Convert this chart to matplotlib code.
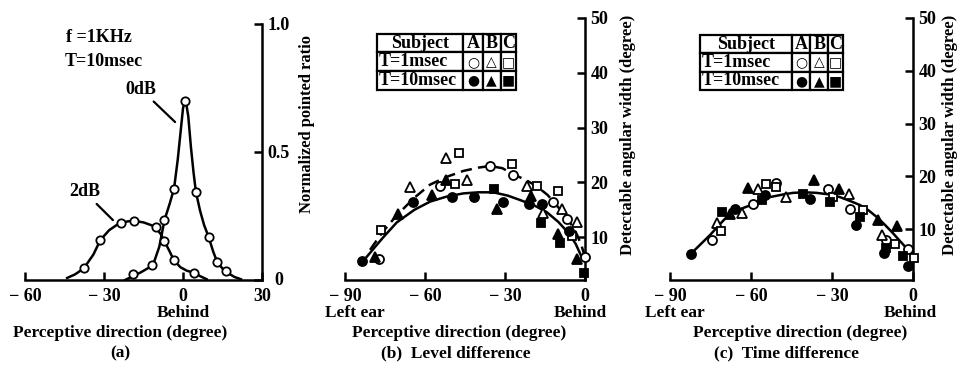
import matplotlib
matplotlib.use("Agg")
import matplotlib.pyplot as plt
from matplotlib.transforms import ScaledTranslation

W, H = 958, 365
SERIF = ["Liberation Serif", "DejaVu Serif"]
SYM = ["DejaVu Sans"]

# ---- (a) normalized pointed ratio, f=1kHz, T=10msec ----
a_0db_x = [-19.1, -11.6, -7.1, -3.4, 0.9, 4.9, 9.7, 13.0, 16.3]
a_0db_y = [0.022, 0.058, 0.234, 0.357, 0.70, 0.344, 0.169, 0.069, 0.035]
a_0db_curve_x = [-22, -19, -16, -13, -11, -9, -7, -5, -3.4, -2, -1, 0, 0.9, 2, 3, 4, 4.9, 6.5, 8, 9.7, 11.5, 13, 15, 17, 19.5, 22]
a_0db_curve_y = [0.0, 0.015, 0.03, 0.048, 0.07, 0.13, 0.235, 0.30, 0.357, 0.47, 0.57, 0.67, 0.71, 0.64, 0.52, 0.42, 0.344, 0.27, 0.215, 0.169, 0.11, 0.07, 0.045, 0.028, 0.012, 0.003]

a_2db_x = [-37.7, -31.4, -23.5, -18.7, -10.4, -7.1, -3.5, 4.1]
a_2db_y = [0.045, 0.156, 0.223, 0.231, 0.208, 0.153, 0.078, 0.029]
a_2db_curve_x = [-44, -41, -37.7, -34, -31.4, -28, -25, -23.5, -21, -18.7, -15, -12, -10.4, -8.5, -7.1, -5, -3.5, -1, 1.5, 4.1, 6.5, 9]
a_2db_curve_y = [0.008, 0.022, 0.045, 0.10, 0.156, 0.195, 0.216, 0.223, 0.229, 0.231, 0.225, 0.214, 0.205, 0.18, 0.153, 0.11, 0.078, 0.05, 0.036, 0.029, 0.015, 0.003]

# ---- (b) level difference: detectable angular width ----
b_A1_x = [-77.3, -54.4, -35.6, -27.1, -12.1, -6.6, 0.0]
b_A1_y = [6.1, 19.4, 23.0, 21.4, 16.4, 13.3, 6.4]
b_B1_x = [-65.6, -52.1, -44.1, -21.9, -15.6, -8.5, -2.9]
b_B1_y = [19.1, 24.5, 20.4, 19.3, 14.4, 15.2, 12.7]
b_C1_x = [-76.6, -48.75, -47.1, -27.5, -17.9, -10.0, -4.75]
b_C1_y = [11.4, 19.8, 25.4, 23.4, 19.4, 18.4, 10.2]
b_A10_x = [-83.7, -64.4, -50.0, -41.6, -30.9, -20.9, -16.25, -5.9]
b_A10_y = [5.6, 16.5, 17.4, 17.4, 16.5, 16.0, 16.0, 11.1]
b_B10_x = [-78.75, -70.0, -57.3, -52.0, -33.1, -20.25, -10.25, -2.9]
b_B10_y = [6.4, 14.3, 17.7, 20.4, 15.2, 17.6, 10.6, 6.1]
b_C10_x = [-34.0, -16.6, -9.4, -0.5]
b_C10_y = [18.8, 12.6, 8.9, 3.5]
b_dash_x = [-80.6, -76, -70.6, -64, -58.1, -52, -45.6, -40, -35.6, -31, -26.9, -22, -18.1, -14, -10.6, -7.5, -5.6, -3, -1.2, 0.0]
b_dash_y = [7.7, 10.9, 14.0, 17.2, 19.6, 21.0, 22.1, 22.7, 23.0, 22.6, 21.5, 20.4, 19.3, 17.7, 15.8, 14.0, 12.7, 10.5, 8.3, 6.4]
b_solid_x = [-81.9, -76, -70.6, -64, -58.1, -52, -45.6, -40, -34.4, -29, -24.4, -19, -14.4, -10, -6.25, -3.5, -1.25]
b_solid_y = [6.4, 9.8, 12.7, 15.0, 16.5, 17.4, 18.0, 18.2, 18.2, 17.6, 16.8, 15.8, 14.6, 12.8, 10.8, 8.8, 6.4]

# ---- (c) time difference: detectable angular width ----
c_A1_x = [-74.6, -59.4, -50.6, -31.4, -23.2, -9.9, -1.85]
c_A1_y = [8.0, 14.7, 18.75, 17.7, 13.75, 8.0, 6.25]
c_B1_x = [-72.5, -63.5, -57.3, -47.1, -23.7, -11.3]
c_B1_y = [11.1, 13.0, 17.7, 16.1, 16.75, 8.9]
c_C1_x = [-71.1, -54.5, -50.6, -29.8, -18.5, -6.8, 0.25]
c_C1_y = [9.7, 18.6, 18.0, 16.1, 13.6, 7.2, 4.6]
c_A10_x = [-82.2, -66.0, -55.0, -38.2, -21.2, -10.9, -1.85]
c_A10_y = [5.4, 13.75, 16.5, 15.8, 10.8, 5.5, 3.1]
c_B10_x = [-67.8, -61.0, -36.7, -27.4, -12.9, -5.9]
c_B10_y = [12.9, 17.9, 19.25, 17.7, 11.75, 10.6]
c_C10_x = [-70.6, -56.0, -40.9, -30.8, -19.7, -10.1, -3.7]
c_C10_y = [13.3, 15.5, 16.6, 15.2, 12.4, 6.4, 5.0]
c_curve_x = [-80.8, -75.2, -70, -66.6, -59.2, -53, -48, -44.4, -40, -35.8, -31, -27.1, -23, -19.7, -16.5, -13.6, -10.5, -7.4, -4.5, -1.85]
c_curve_y = [6.1, 8.9, 11.8, 13.3, 14.75, 16.1, 16.6, 16.9, 17.0, 16.9, 16.6, 16.1, 15.3, 14.6, 13.6, 12.4, 10.9, 9.25, 7.6, 6.1]

table_rows = [["Subject", "A", "B", "C"],
              ["T=1msec", "○", "△", "□"],
              ["T=10msec", "●", "▲", "■"]]


def px_axes(fig, x0, x1, ytop, ybot):
    return fig.add_axes([x0 / W, (H - ybot) / H, (x1 - x0) / W, (ybot - ytop) / H])


def style_axes(ax, xticks, yticks, yfmt):
    for s in ("left", "top"):
        ax.spines[s].set_visible(False)
    for s in ("right", "bottom"):
        ax.spines[s].set_linewidth(1.8)
    ax.yaxis.tick_right()
    ax.set_xticks(xticks)
    ax.set_xticklabels([f"{t:d}".replace("-", "− ") for t in xticks])
    ax.set_yticks(yticks)
    ax.set_yticklabels([yfmt(t) for t in yticks])
    ax.tick_params(axis="x", direction="in", length=6, width=1.8, pad=6)
    ax.tick_params(axis="y", direction="in", length=6, width=1.8, pad=4)
    for lab in ax.get_xticklabels() + ax.get_yticklabels():
        lab.set_family(SERIF)
        lab.set_fontweight("bold")
        lab.set_fontsize(13)
    ax.patch.set_alpha(0)


def pts(ax, x, y, mk, filled, ms=6.5):
    ax.plot(x, y, ls="none", marker=mk, ms=ms, mec="black", mew=1.3,
            mfc="black" if filled else "white", zorder=4, clip_on=False)


def add_table(ax, bbox, widths):
    tb = ax.table(cellText=table_rows, bbox=bbox, colWidths=widths, cellLoc="center")
    tb.auto_set_font_size(False)
    for (r, c), cell in tb.get_celld().items():
        cell.set_linewidth(1.6)
        t = cell.get_text()
        t.set_fontweight("bold")
        if c == 0 or r == 0:
            t.set_family(SERIF)
            t.set_fontsize(13)
        else:
            t.set_family(SYM)
            t.set_fontsize(10)
        if c == 0 and r > 0:
            t.set_ha("left")
            cell.PAD = 0.02
    tb.set_zorder(5)
    return tb


fig = plt.figure(figsize=(W / 100, H / 100), dpi=100)
txt = dict(family=SERIF, fontweight="bold")

# ---------------- panel (a) ----------------
ax = px_axes(fig, 25, 262, 24, 280)
ax.set_xlim(-60, 30)
ax.set_ylim(0, 1.0)
style_axes(ax, [-60, -30, 0, 30], [0, 0.5, 1.0], lambda v: "0" if v == 0 else f"{v:.1f}")
zero_lab = ax.get_yticklabels()[0]
zero_lab.set_transform(zero_lab.get_transform() + ScaledTranslation(5 / 72, 1 / 72, fig.dpi_scale_trans))
ax.plot(a_0db_curve_x, a_0db_curve_y, color="black", lw=1.8, zorder=3)
ax.plot(a_2db_curve_x, a_2db_curve_y, color="black", lw=1.8, zorder=3)
pts(ax, a_0db_x, a_0db_y, "o", False, ms=6)
pts(ax, a_2db_x, a_2db_y, "o", False, ms=6)
ax.annotate("0dB", xy=(-3.0, 0.617), xytext=(-16.0, 0.745), ha="center", va="center",
            fontsize=13, arrowprops=dict(arrowstyle="-", lw=1.6, color="black", shrinkA=1, shrinkB=0), **txt)
ax.annotate("2dB", xy=(-26.6, 0.234), xytext=(-37.5, 0.345), ha="center", va="center",
            fontsize=13, arrowprops=dict(arrowstyle="-", lw=1.6, color="black", shrinkA=1, shrinkB=0), **txt)
fig.text(66 / W, 1 - 38 / H, "f =1KHz", ha="left", va="center", fontsize=13, **txt)
fig.text(65 / W, 1 - 61 / H, "T=10msec", ha="left", va="center", fontsize=13, **txt)
fig.text(307 / W, 1 - 124 / H, "Normalized pointed ratio", rotation=90, ha="center", va="center", fontsize=12, **txt)
fig.text(183 / W, 1 - 313 / H, "Behind", ha="center", va="center", fontsize=12.5, **txt)
fig.text(120 / W, 1 - 333 / H, "Perceptive direction (degree)", ha="center", va="center", fontsize=12.5, **txt)
fig.text(120 / W, 1 - 353 / H, "(a)", ha="center", va="center", fontsize=12.5, **txt)

# ---------------- panels (b) and (c) ----------------
panels = [
    dict(x0=345, x1=585, ybot=2.2, title="(b)  Level difference",
         series=[(b_A1_x, b_A1_y, "o", False), (b_B1_x, b_B1_y, "^", False), (b_C1_x, b_C1_y, "s", False),
                 (b_A10_x, b_A10_y, "o", True), (b_B10_x, b_B10_y, "^", True), (b_C10_x, b_C10_y, "s", True)],
         curves=[(b_dash_x, b_dash_y, (0, (4.5, 2.5))), (b_solid_x, b_solid_y, "-")],
         table=([0.133, 0.725, 0.58, 0.215], [0.62, 0.14, 0.13, 0.11]),
         left_ear=325, behind=607, xlab=459, cap=456, ylab=628),
    dict(x0=670, x1=913, ybot=0.4, title="(c)  Time difference",
         series=[(c_A1_x, c_A1_y, "o", False), (c_B1_x, c_B1_y, "^", False), (c_C1_x, c_C1_y, "s", False),
                 (c_A10_x, c_A10_y, "o", True), (c_B10_x, c_B10_y, "^", True), (c_C10_x, c_C10_y, "s", True)],
         curves=[(c_curve_x, c_curve_y, "-")],
         table=([0.123, 0.725, 0.59, 0.21], [0.64, 0.13, 0.125, 0.105]),
         left_ear=645, behind=937, xlab=800, cap=786, ylab=950),
]

for p in panels:
    ax = px_axes(fig, p["x0"], p["x1"], 18, 280)
    ax.set_xlim(-90, 0)
    ax.set_ylim(p["ybot"], 50)
    style_axes(ax, [-90, -60, -30, 0], [10, 20, 30, 40, 50], lambda v: f"{v:d}")
    for cx, cy, ls in p["curves"]:
        ax.plot(cx, cy, color="black", lw=1.8, ls=ls, zorder=3)
    for sx, sy, mk, filled in p["series"]:
        pts(ax, sx, sy, mk, filled, ms=6.5 if mk != "s" else 6)
    add_table(ax, *p["table"])
    fig.text(p["left_ear"] / W, 1 - 313 / H, "Left ear", ha="left", va="center", fontsize=12.5, **txt)
    fig.text(p["behind"] / W, 1 - 313 / H, "Behind", ha="right", va="center", fontsize=12.5, **txt)
    fig.text(p["xlab"] / W, 1 - 333 / H, "Perceptive direction (degree)", ha="center", va="center", fontsize=12.5, **txt)
    fig.text(p["cap"] / W, 1 - 353 / H, p["title"], ha="center", va="center", fontsize=12.5, **txt)
    fig.text(p["ylab"] / W, 1 - 135 / H, "Detectable angular width (degree)", rotation=90,
             ha="center", va="center", fontsize=12, **txt)

fig.savefig("out.png", dpi=100)
